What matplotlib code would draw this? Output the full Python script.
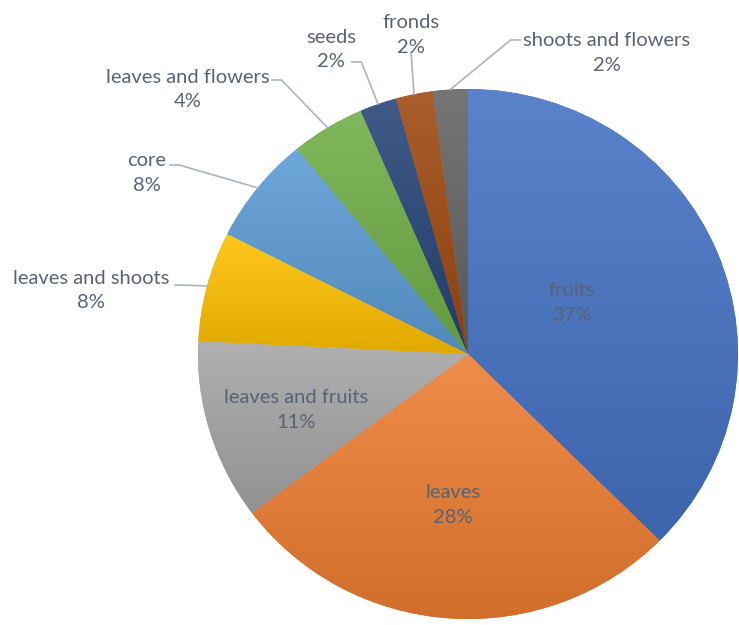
import matplotlib.pyplot as plt
import numpy as np
from matplotlib.colors import to_rgb

# slice data, clockwise from 12 o'clock (shares)
categories = ['fruits', 'leaves', 'leaves and fruits', 'leaves and shoots', 'core',
              'leaves and flowers', 'seeds', 'fronds', 'shoots and flowers']
values = [37.4, 27.3, 11.0, 6.7, 6.6, 4.4, 2.2, 2.2, 2.1]
# percentages as printed on the chart
pct_labels = [37, 28, 11, 8, 8, 4, 2, 2, 2]
colors = ['#4472C4', '#ED7D31', '#A5A5A5', '#FFC000', '#5B9BD5',
          '#70AD47', '#264478', '#9E480E', '#636363']

# label placement (pie radius = 1)
inside_pos = {'fruits': (0.385, 0.192), 'leaves': (-0.056, -0.57),
              'leaves and fruits': (-0.637, -0.211)}
# text centre, leader start, leader kind
outside_pos = {'leaves and shoots': ((-1.396, 0.24), (-1.085, 0.26), 'h'),
               'core': ((-1.189, 0.683), (-1.104, 0.713), 'h'),
               'leaves and flowers': ((-1.037, 0.998), (-0.726, 1.034), 'h'),
               'seeds': ((-0.507, 1.149), (-0.43, 1.102), 'h'),
               'fronds': ((-0.211, 1.204), (-0.211, 1.14), 'v'),
               'shoots and flowers': ((0.515, 1.136), (0.193, 1.185), 'h')}

text_color = '#586274'
line_color = '#aab4c2'
plt.rcParams['font.family'] = ['Lato', 'DejaVu Sans']

fig = plt.figure(figsize=(7.39, 6.25), dpi=100)
rx, ry = 270, 265
cx, cy = 468, 354
ax = fig.add_axes([(cx - rx) / 739, (625 - cy - ry) / 625, 2 * rx / 739, 2 * ry / 625])

wedges, _ = ax.pie(values, startangle=90, counterclock=False, radius=1,
                   colors=colors, wedgeprops=dict(linewidth=0))

# Excel-like vertical gradient on each slice
t = np.linspace(0, 1, 256)[:, None, None]
for w, c in zip(wedges, colors):
    base = np.array(to_rgb(c))
    top = base + (1 - base) * 0.12
    bot = base * 0.88
    grad = top * (1 - t) + bot * t
    ext = w.get_path().get_extents()
    im = ax.imshow(grad, extent=(ext.x0, ext.x1, ext.y0, ext.y1), origin='upper',
                   aspect='auto', zorder=2, interpolation='bilinear')
    im.set_clip_path(w)

ax.set_xlim(-1, 1)
ax.set_ylim(-1, 1)
ax.set_aspect('auto')
ax.axis('off')

total = sum(values)
theta = 90.0
for cat, v, p in zip(categories, values, pct_labels):
    span = v / total * 360
    mid = np.radians(theta - span / 2)
    theta -= span
    lab = '%s\n%d%%' % (cat, p)
    if cat in inside_pos:
        x, y = inside_pos[cat]
        ax.text(x, y, lab, ha='center', va='center', fontsize=14.5,
                color=text_color, linespacing=1.52, zorder=5)
    else:
        (x, y), (sx, sy), kind = outside_pos[cat]
        ax.text(x, y, lab, ha='center', va='center', fontsize=14.5,
                color=text_color, linespacing=1.52, zorder=5)
        ex, ey = np.cos(mid), np.sin(mid)
        if kind == 'h':
            step = 0.035 if ex > sx else -0.035
            xs, ys = [sx, sx + step, ex], [sy, sy, ey]
        else:
            xs, ys = [sx, ex], [sy, ey]
        ax.plot(xs, ys, color=line_color, lw=1.2, clip_on=False, zorder=4)

fig.savefig('out.png', dpi=100)
